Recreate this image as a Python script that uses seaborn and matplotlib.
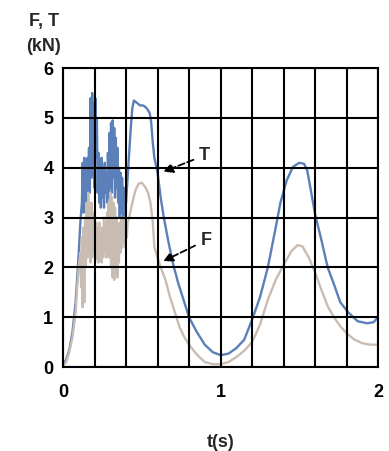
import matplotlib
matplotlib.use("Agg")
import matplotlib.pyplot as plt
import seaborn as sns

# ---- data ----
t_T = [0.00, 0.02, 0.04, 0.06, 0.08, 0.09, 0.10, 0.11,
       0.120, 0.125, 0.130, 0.135, 0.140, 0.145, 0.150, 0.155, 0.160, 0.165,
       0.170, 0.175, 0.180, 0.185, 0.190, 0.195, 0.200, 0.205, 0.210, 0.215,
       0.220, 0.225, 0.230, 0.235, 0.240, 0.245, 0.250, 0.255, 0.260, 0.265,
       0.270, 0.275, 0.280, 0.285, 0.290, 0.295, 0.300, 0.305, 0.310, 0.315,
       0.320, 0.325, 0.330, 0.335, 0.340, 0.345, 0.350, 0.355, 0.360, 0.365,
       0.370, 0.375, 0.380, 0.385, 0.390, 0.395, 0.400,
       0.41, 0.42, 0.43, 0.44, 0.45, 0.47, 0.49, 0.51, 0.53, 0.55, 0.56, 0.57,
       0.58, 0.60, 0.62, 0.64, 0.67, 0.70, 0.73, 0.76, 0.80, 0.85, 0.90, 0.95,
       1.00, 1.05, 1.10, 1.15, 1.20, 1.25, 1.30, 1.35, 1.38, 1.42, 1.46, 1.50,
       1.53, 1.55, 1.57, 1.60, 1.64, 1.68, 1.72, 1.76, 1.81, 1.87, 1.93, 1.97, 2.00]
T_vals = [0.05, 0.15, 0.35, 0.7, 1.3, 1.8, 2.3, 2.9,
          3.3, 4.1, 3.1, 4.2, 3.2, 4.0, 3.0, 4.2, 3.6, 4.4,
          3.5, 5.4, 3.8, 5.5, 4.0, 5.3, 3.6, 5.4, 4.2, 5.0,
          3.5, 4.3, 3.3, 4.1, 3.2, 4.2, 3.4, 4.0, 3.2, 4.1,
          3.5, 3.9, 3.3, 4.3, 3.4, 4.7, 3.6, 4.9, 3.5, 4.95,
          3.8, 4.8, 3.4, 4.6, 3.6, 4.4, 3.3, 4.0, 3.0, 3.9,
          3.1, 3.8, 2.9, 3.6, 3.0, 3.5, 3.3,
          3.8, 4.3, 4.8, 5.2, 5.35, 5.3, 5.25, 5.25, 5.2, 5.1, 4.9, 4.5,
          4.2, 3.9, 3.4, 3.0, 2.5, 2.05, 1.7, 1.4, 1.0, 0.7, 0.45, 0.3,
          0.24, 0.27, 0.38, 0.55, 0.95, 1.4, 2.0, 2.8, 3.3, 3.75, 4.02, 4.1,
          4.08, 3.95, 3.6, 3.07, 2.55, 2.0, 1.66, 1.3, 1.1, 0.92, 0.88, 0.9, 1.0]

t_F = [0.00, 0.02, 0.04, 0.06, 0.08, 0.09, 0.10, 0.11,
       0.115, 0.120, 0.125, 0.130, 0.135, 0.140, 0.145, 0.150, 0.155, 0.160,
       0.165, 0.170, 0.175, 0.180, 0.185, 0.190, 0.195, 0.200, 0.205, 0.210,
       0.215, 0.220, 0.225, 0.230, 0.235, 0.240, 0.245, 0.250, 0.255, 0.260,
       0.265, 0.270, 0.275, 0.280, 0.285, 0.290, 0.295, 0.300, 0.305, 0.310,
       0.315, 0.320, 0.325, 0.330, 0.335, 0.340, 0.345, 0.350, 0.355, 0.360,
       0.365, 0.370, 0.375, 0.380, 0.385, 0.390, 0.395, 0.400, 0.405, 0.410,
       0.42, 0.44, 0.46, 0.48, 0.50, 0.52, 0.54, 0.555, 0.57, 0.58, 0.59, 0.60,
       0.62, 0.65, 0.68, 0.71, 0.74, 0.77, 0.80, 0.85, 0.90, 0.95, 1.00, 1.05,
       1.10, 1.15, 1.20, 1.25, 1.30, 1.35, 1.40, 1.45, 1.49, 1.52, 1.56, 1.60,
       1.64, 1.68, 1.72, 1.76, 1.80, 1.85, 1.90, 1.95, 2.00]
F_vals = [0.02, 0.1, 0.3, 0.6, 1.1, 1.6, 2.0, 2.3,
          1.6, 2.6, 1.2, 2.8, 1.3, 3.0, 2.0, 3.3, 2.2, 3.5,
          2.3, 3.2, 2.1, 3.3, 2.2, 3.1, 2.3, 3.0, 2.15, 2.9,
          2.2, 2.8, 2.1, 2.9, 2.2, 2.7, 2.1, 2.8, 2.2, 3.0,
          2.3, 2.9, 2.2, 3.1, 2.4, 3.3, 2.2, 3.5, 2.0, 3.4,
          1.8, 3.3, 1.75, 3.2, 1.9, 3.0, 1.8, 2.8, 2.1, 2.9,
          2.3, 3.0, 2.4, 2.9, 2.5, 3.0, 2.4, 2.8, 2.6, 2.9,
          3.0, 3.3, 3.55, 3.68, 3.7, 3.62, 3.5, 3.3, 2.9, 2.4, 2.3, 2.2,
          2.0, 1.75, 1.4, 1.1, 0.8, 0.6, 0.45, 0.25, 0.1, 0.06, 0.06, 0.1,
          0.2, 0.33, 0.5, 0.85, 1.35, 1.75, 2.05, 2.33, 2.45, 2.42, 2.2, 1.9,
          1.55, 1.22, 1.0, 0.82, 0.68, 0.55, 0.48, 0.45, 0.45]

x_ticks = [0, 0.2, 0.4, 0.6, 0.8, 1.0, 1.2, 1.4, 1.6, 1.8, 2.0]
x_ticklabels = ["0", "", "", "", "", "1", "", "", "", "", "2"]
y_ticks = [0, 1, 2, 3, 4, 5, 6]

sns.set_style("white")
plt.rcParams['font.family'] = ['Liberation Sans', 'DejaVu Sans']
plt.rcParams['font.weight'] = 'bold'

fig = plt.figure(figsize=(3.89, 4.51), dpi=100)
ax = fig.add_axes([0.162, 0.186, 0.81, 0.663])

sns.lineplot(x=t_T, y=T_vals, ax=ax, color="#5b7fb8", lw=1.7, sort=False)
sns.lineplot(x=t_F, y=F_vals, ax=ax, color="#c9bcb2", lw=1.7, sort=False)

ax.set_xlim(0, 2)
ax.set_ylim(0, 6)
ax.set_xticks(x_ticks)
ax.set_xticklabels(x_ticklabels)
ax.set_yticks(y_ticks)
ax.grid(True, color="black", lw=1.5)
ax.set_axisbelow(False)
for s in ax.spines.values():
    s.set_color("black")
    s.set_linewidth(1.5)
ax.tick_params(direction="out", length=5, width=1.5, colors="black", labelsize=13)
ax.tick_params(axis="x", pad=7)
ax.tick_params(axis="y", pad=2)

# axis titles
ax.set_xlabel("t(s)", fontsize=13, fontweight="bold", labelpad=24)
fig.text(0.113, 0.952, "F, T", ha="center", va="center", fontsize=13, fontweight="bold")
fig.text(0.113, 0.898, "(kN)", ha="center", va="center", fontsize=13, fontweight="bold")

# curve callouts
arrow = dict(arrowstyle="-|>", color="black", lw=1.3, linestyle="--", mutation_scale=14)
ax.annotate("T", xy=(0.62, 3.9), xytext=(0.9, 4.25), fontsize=13, fontweight="bold",
            ha="center", va="center", arrowprops=arrow)
ax.annotate("F", xy=(0.62, 2.1), xytext=(0.91, 2.55), fontsize=13, fontweight="bold",
            ha="center", va="center", arrowprops=arrow)

plt.savefig("out.png", dpi=100)
